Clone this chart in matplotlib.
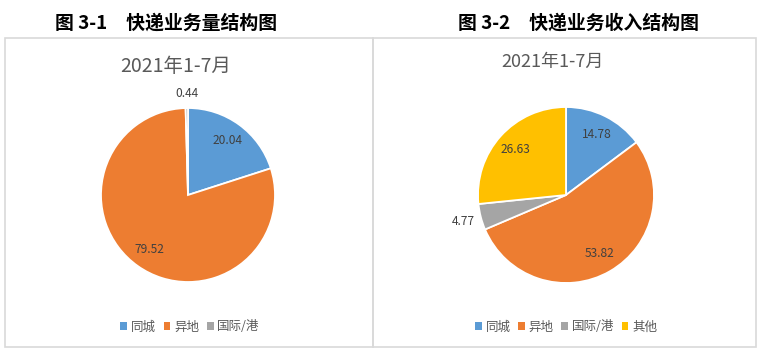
import matplotlib
matplotlib.use("Agg")
import matplotlib.pyplot as plt
from matplotlib.patches import Rectangle, Patch
import numpy as np

plt.rcParams['font.family'] = ['Noto Sans CJK SC', 'DejaVu Sans']

# data
period = "2021年1-7月"
vol_labels = ["同城", "异地", "国际/港"]
vol_values = [20.04, 79.52, 0.44]
rev_labels = ["同城", "异地", "国际/港", "其他"]
rev_values = [14.78, 53.82, 4.77, 26.63]
headings = ["图 3-1\u3000快递业务量结构图", "图 3-2\u3000快递业务收入结构图"]

colors = ["#5B9BD5", "#ED7D31", "#A5A5A5", "#FFC000"]
W, H = 762, 354
fig = plt.figure(figsize=(W / 100, H / 100), dpi=100)


def px(x, y):
    return x / W, 1 - y / H


# panel borders
for x0, x1 in [(5, 373), (373, 756)]:
    fig.patches.append(Rectangle(px(x0, 347), (x1 - x0) / W, (347 - 38) / H,
                                 transform=fig.transFigure, fill=False,
                                 edgecolor="#D9D9D9", lw=1.2))


def draw_pie(cx, cy, r, labels, values, title, tx, ty, tsize, lx):
    half = 125
    x0, y0 = px(cx - half, cy + half)
    ax = fig.add_axes([x0, y0, 2 * half / W, 2 * half / H])
    lim = half / r
    wedges, _ = ax.pie(values, colors=colors[:len(values)], startangle=90,
                       counterclock=False,
                       wedgeprops=dict(edgecolor="white", linewidth=1.3))
    ax.set_xlim(-lim, lim)
    ax.set_ylim(-lim, lim)
    ax.set_aspect("equal")
    ax.axis("off")
    for w, v in zip(wedges, values):
        ang = np.deg2rad((w.theta1 + w.theta2) / 2)
        d = 0.77 if v > 10 else (1.2 if v > 1 else 1.17)
        ax.text(d * np.cos(ang), d * np.sin(ang), f"{v:.2f}", ha="center",
                va="center", fontsize=8.6, color="#404040")
    fx, fy = px(tx, ty)
    fig.text(fx, fy, title, ha="center", va="center", fontsize=tsize,
             color="#595959")
    handles = [Patch(facecolor=c, edgecolor="none") for c in colors[:len(values)]]
    lgx, lgy = px(lx, 327)
    fig.legend(handles, labels, loc="center", bbox_to_anchor=(lgx, lgy),
               ncol=len(values), frameon=False, fontsize=9,
               handlelength=0.55, handleheight=0.55, handletextpad=0.3,
               columnspacing=0.6, labelcolor="#595959")


draw_pie(188, 195, 87, vol_labels, vol_values, period, 176, 67, 14, 190)
draw_pie(566, 195, 88, rev_labels, rev_values, period, 553, 62, 13, 566)

for h, hx in zip(headings, [166, 578]):
    fx, fy = px(hx, 23)
    fig.text(fx, fy, h, ha="center", va="center", fontsize=13.6,
             fontweight="semibold", color="black")

fig.savefig("out.png", dpi=100)
